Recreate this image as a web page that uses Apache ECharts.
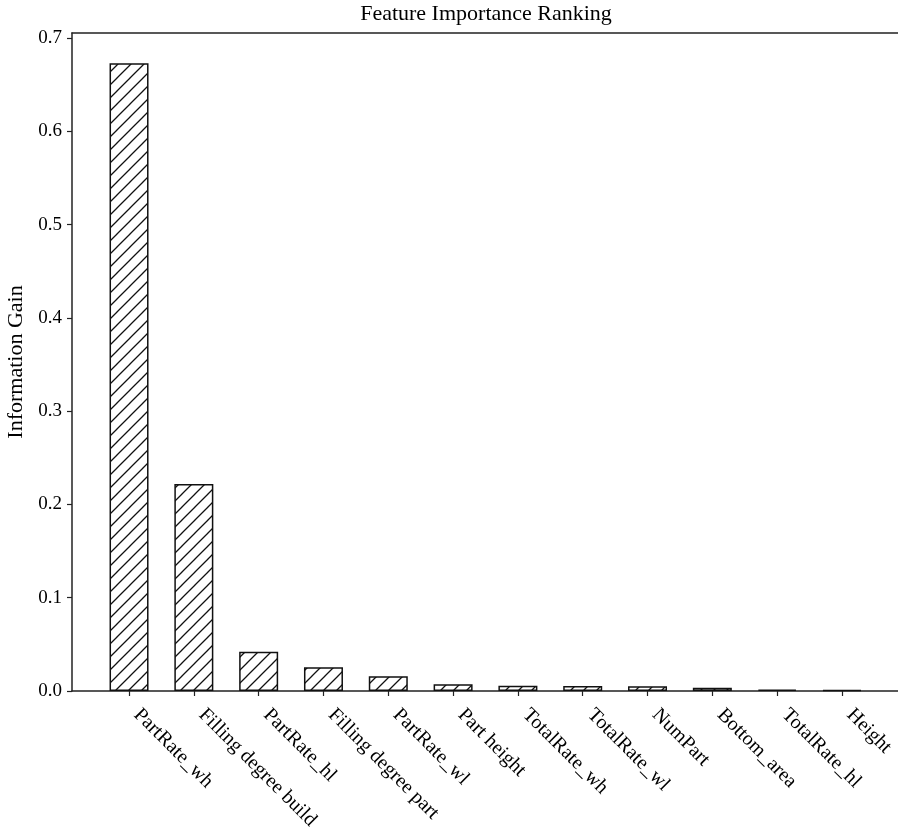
<!DOCTYPE html>
<html>
<head>
<meta charset="utf-8">
<script src="https://cdn.jsdelivr.net/npm/echarts@6/dist/echarts.min.js"></script>
<style>
html,body{margin:0;padding:0;background:#fff;}
#chart{width:898px;height:839px;}
</style>
</head>
<body>
<div id="chart"></div>
<script>
const categories = ['PartRate_wh', 'Filling degree build', 'PartRate_hl', 'Filling degree part', 'PartRate_wl', 'Part height', 'TotalRate_wh', 'TotalRate_wl', 'NumPart', 'Bottom_area', 'TotalRate_hl', 'Height'];
const gains = [0.673, 0.222, 0.042, 0.0255, 0.0157, 0.0072, 0.0055, 0.0053, 0.005, 0.0035, 0.0015, 0.001];
const yTickValues = [0, 0.1, 0.2, 0.3, 0.4, 0.5, 0.6, 0.7];
const titleText = 'Feature Importance Ranking';
const yName = 'Information Gain';

const FONT = 'Liberation Serif';

// hatch pattern "/"
function makeHatch(size, color, lw) {
  const c = document.createElement('canvas');
  c.width = size; c.height = size;
  const ctx = c.getContext('2d');
  ctx.fillStyle = '#fff';
  ctx.fillRect(0, 0, size, size);
  ctx.strokeStyle = color;
  ctx.lineWidth = lw;
  ctx.beginPath();
  ctx.moveTo(-size, 2 * size); ctx.lineTo(2 * size, -size);
  ctx.moveTo(-size, size); ctx.lineTo(size, -size);
  ctx.moveTo(0, 2 * size); ctx.lineTo(2 * size, 0);
  ctx.stroke();
  return c;
}
const hatch = makeHatch(13, '#111', 1.3);

const chart = echarts.init(document.getElementById('chart'), null, {renderer: 'canvas'});
const xIdx = categories.map((c, i) => i);
const X_MIN = -0.88, X_MAX = 11.88;

chart.setOption({
  animation: false,
  backgroundColor: '#fff',
  title: {
    text: titleText,
    left: 486,
    top: 3,
    textAlign: 'center',
    padding: 0,
    textStyle: {fontFamily: FONT, fontSize: 22, fontWeight: 'normal', color: '#000'}
  },
  grid: {
    left: 72, top: 33, width: 827, height: 658,
    containLabel: false,
    outerBoundsMode: 'none'
  },
  xAxis: [{
    type: 'value',
    min: X_MIN, max: X_MAX,
    position: 'bottom',
    splitLine: {show: false},
    axisLine: {show: true, onZero: false, lineStyle: {color: '#222', width: 1.5}},
    axisTick: {show: true, customValues: xIdx, length: 5, lineStyle: {color: '#222', width: 1.2}},
    axisLabel: {
      show: true, customValues: xIdx, rotate: -45, margin: 13,
      padding: [0, 0, 0, 11],
      fontFamily: FONT, fontSize: 20, color: '#000',
      formatter: v => categories[Math.round(v)]
    }
  }, {
    type: 'value',
    min: X_MIN, max: X_MAX,
    position: 'top',
    splitLine: {show: false},
    axisLine: {show: true, onZero: false, lineStyle: {color: '#222', width: 1.5}},
    axisTick: {show: false},
    axisLabel: {show: false}
  }],
  yAxis: {
    type: 'value',
    min: 0, max: 0.7053,
    name: yName,
    nameLocation: 'middle',
    nameRotate: 90,
    nameGap: 30,
    nameTextStyle: {fontFamily: FONT, fontSize: 22, color: '#000'},
    splitLine: {show: false},
    axisLine: {show: true, onZero: false, lineStyle: {color: '#222', width: 1.5}},
    axisTick: {show: true, customValues: yTickValues, length: 5, lineStyle: {color: '#222', width: 1.2}},
    axisLabel: {
      show: true, customValues: yTickValues, margin: 10,
      fontFamily: FONT, fontSize: 19, color: '#000',
      formatter: v => v.toFixed(1)
    }
  },
  series: [{
    type: 'bar',
    xAxisIndex: 0,
    barWidth: 39,
    data: categories.map((c, i) => [i, gains[i]]),
    itemStyle: {
      color: {image: hatch, repeat: 'repeat'},
      borderColor: '#111',
      borderWidth: 1.5
    }
  }]
});
</script>
</body>
</html>
